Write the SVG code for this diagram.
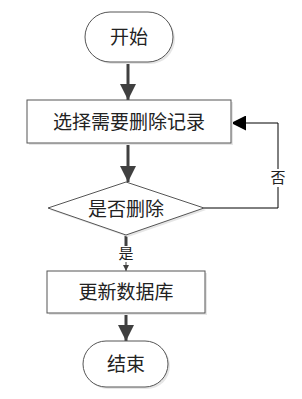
<svg xmlns="http://www.w3.org/2000/svg" width="302" height="399" viewBox="0 0 302 399">
<defs>
<marker id="big" viewBox="0 0 10 10" refX="10" refY="5" markerWidth="5.5" markerHeight="5.5" orient="auto" markerUnits="strokeWidth"><path d="M0,0 L10,5 L0,10 Z" fill="#404040"/></marker>
<marker id="thin" viewBox="0 0 10 10" refX="10" refY="5" markerWidth="20" markerHeight="15" orient="auto" markerUnits="userSpaceOnUse"><path d="M0,0 L10,5 L0,10 Z" fill="#000"/></marker>
<marker id="small" viewBox="0 0 10 10" refX="10" refY="5" markerWidth="6" markerHeight="6" orient="auto" markerUnits="userSpaceOnUse"><path d="M0,0 L10,5 L0,10 Z" fill="#404040"/></marker>
</defs>
<style>
.shape{fill:#fff;stroke:#555;stroke-width:1}
.shadow{fill:#e6e6e6;stroke:none}
.t{font-family:"Liberation Serif","Noto Sans CJK SC",serif;font-size:19px;fill:#222;text-anchor:middle;dominant-baseline:central}
.lbl{font-family:"Liberation Serif","Noto Sans CJK SC",serif;font-size:15px;fill:#222;text-anchor:middle;dominant-baseline:central}
.thick{stroke:#404040;stroke-width:3;fill:none}
</style>
<rect width="302" height="399" fill="#fff"/>
<g id="connectors">
<line class="thick" x1="128" y1="62" x2="128" y2="100" marker-end="url(#big)"/>
<line class="thick" x1="128" y1="143" x2="128" y2="182" marker-end="url(#big)"/>
<polyline points="204,208 278,208 278,123 231,123" fill="none" stroke="#000" stroke-width="1" marker-end="url(#thin)"/>
<rect x="270" y="169" width="16" height="18" fill="#fff"/>
<text class="lbl" x="278" y="178">否</text>
<line class="thick" x1="126" y1="235" x2="126" y2="246"/>
<text class="lbl" x="126" y="254">是</text>
<line stroke="#404040" stroke-width="1" x1="126" y1="262" x2="126" y2="271" marker-end="url(#small)"/>
<line class="thick" x1="126" y1="313" x2="126" y2="341" marker-end="url(#big)"/>
</g>
<g id="start">
<rect class="shadow" x="87" y="14" width="88" height="50" rx="25"/>
<rect class="shape" x="85" y="12" width="88" height="50" rx="25"/>
<text class="t" x="129" y="37">开始</text>
</g>
<g id="select">
<rect class="shadow" x="29" y="102" width="204" height="43"/>
<rect class="shape" x="27" y="100" width="204" height="43"/>
<text class="t" x="129" y="122">选择需要删除记录</text>
</g>
<g id="decide">
<polygon class="shadow" points="128,184 206,210 128,237 50,210"/>
<polygon class="shape" points="126,182 204,208 126,235 48,208"/>
<text class="t" x="126" y="209">是否删除</text>
</g>
<g id="update">
<rect class="shadow" x="49" y="273" width="158" height="42"/>
<rect class="shape" x="47" y="271" width="158" height="42"/>
<text class="t" x="126" y="292">更新数据库</text>
</g>
<g id="end">
<rect class="shadow" x="85" y="343" width="85" height="46" rx="23"/>
<rect class="shape" x="83" y="341" width="85" height="46" rx="23"/>
<text class="t" x="126" y="364">结束</text>
</g>
</svg>
